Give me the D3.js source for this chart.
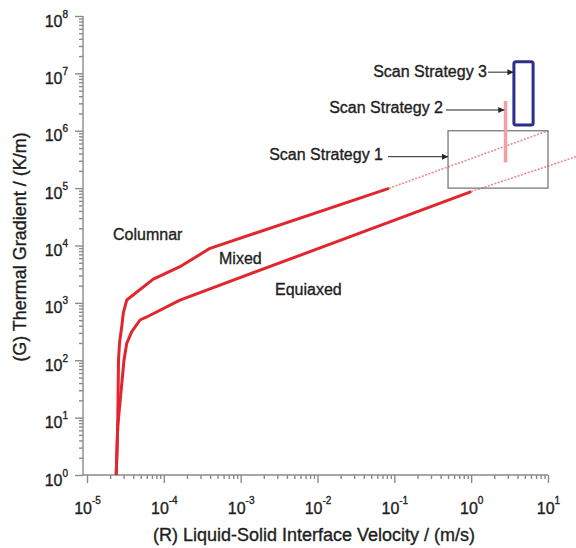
<!DOCTYPE html>
<html>
<head>
<meta charset="utf-8">
<script src="https://cdn.jsdelivr.net/npm/d3@7"></script>
<style>
  body { margin: 0; background: #fff; }
  svg { display: block; font-family: "Liberation Sans", Arial, Helvetica, sans-serif; }
  svg text { stroke: #1e1e1e; stroke-width: 0.35px; }
</style>
</head>
<body>
<div id="chart"></div>
<script>
// boundary curves (R in m/s, G in K/m)
const upperR = [2.40e-5, 2.51e-5, 2.57e-5, 2.65e-5, 2.83e-5, 2.97e-5, 3.29e-5, 7.3e-5, 1.62e-4, 3.99e-4, 8.5e-2];
const upperG = [1, 7, 100, 200, 380, 667, 1120, 2600, 4270, 8930, 9.9e4];
const upperExtR = [8.5e-2, 10];
const upperExtG = [9.9e4, 1e6];

const lowerR = [2.40e-5, 2.51e-5, 3.03e-5, 3.29e-5, 3.82e-5, 4.9e-5, 5.98e-5, 1.62e-4, 1.0];
const lowerG = [1, 7, 100, 197, 315, 503, 568, 1120, 8.7e4];
const lowerExtR = [1.0, 23.2];
const lowerExtG = [8.7e4, 3.53e5];

// scan strategy windows
const scan1R = [0.5, 10], scan1G = [1e5, 1e6];
const scan2R = 2.8, scan2G = [2.8e5, 3.3e6];
const scan3R = [3.6, 6.4], scan3G = [1.26e6, 1.6e7];

const xMajors = [1e-5, 1e-4, 1e-3, 1e-2, 1e-1, 1e0, 1e1];
const yMajors = [1e0, 1e1, 1e2, 1e3, 1e4, 1e5, 1e6, 1e7, 1e8];

const regionLabels = [
  { text: "Columnar", x: 113, y: 240 },
  { text: "Mixed", x: 219, y: 264 },
  { text: "Equiaxed", x: 275, y: 295 }
];

const W = 576, H = 548;
const red = "#e2262d";

const svg = d3.select("#chart").append("svg")
  .attr("width", W).attr("height", H);

const x = d3.scaleLog().domain([1e-5, 10]).range([87, 548]);
const y = d3.scaleLog().domain([1, 1e8]).range([475, 16]);
const axisX0 = x.range()[0] - 4;

function minors(majors) {
  const out = [];
  majors.slice(0, -1).forEach(m => { for (let k = 2; k <= 9; k++) out.push(m * k); });
  return out;
}

// arrowhead
svg.append("defs").append("marker")
  .attr("id", "arrow")
  .attr("viewBox", "0 0 10 10")
  .attr("refX", 10).attr("refY", 5)
  .attr("markerWidth", 8).attr("markerHeight", 6)
  .attr("markerUnits", "userSpaceOnUse")
  .attr("orient", "auto")
  .append("path").attr("d", "M0,0L10,5L0,10Z").attr("fill", "#222");

// x axis
const gx = svg.append("g").attr("transform", "translate(0," + y.range()[0] + ")");
gx.append("g")
  .call(d3.axisBottom(x).tickValues(minors(xMajors)).tickSize(4).tickSizeOuter(0).tickFormat(""));
const gxMaj = gx.append("g")
  .call(d3.axisBottom(x).tickValues(xMajors).tickSize(8).tickSizeOuter(0));
gxMaj.selectAll(".tick text").text(null)
  .attr("y", 39).attr("dy", 0)
  .each(function(d) {
    const t = d3.select(this);
    t.append("tspan").text("10");
    t.append("tspan").attr("dy", -10).attr("font-size", 10).text(Math.round(Math.log10(d)));
  });
gx.selectAll(".domain").remove();
gx.append("line").attr("x1", axisX0).attr("x2", x.range()[1]);

// y axis
const gy = svg.append("g").attr("transform", "translate(" + axisX0 + ",0)");
gy.append("g")
  .call(d3.axisLeft(y).tickValues(minors(yMajors)).tickSize(4).tickSizeOuter(0).tickFormat(""));
const gyMaj = gy.append("g")
  .call(d3.axisLeft(y).tickValues(yMajors).tickSize(8).tickSizeOuter(0));
gyMaj.selectAll(".tick text").text(null)
  .attr("x", -15).attr("y", 10).attr("dy", 0)
  .each(function(d) {
    const t = d3.select(this);
    t.append("tspan").text("10");
    t.append("tspan").attr("dy", -9).attr("font-size", 10).text(Math.round(Math.log10(d)));
  });
gy.selectAll(".domain").remove();
gy.append("line").attr("y1", y.range()[1]).attr("y2", y.range()[0]);

svg.selectAll(".tick line, g > line").attr("stroke", "#8a8a8a").attr("stroke-width", 1.4);
svg.selectAll(".tick text").attr("font-size", 16).attr("fill", "#1e1e1e").attr("font-family", null);

// axis titles
svg.append("text")
  .attr("x", 314).attr("y", 541)
  .attr("text-anchor", "middle")
  .attr("font-size", 18).attr("fill", "#1e1e1e")
  .text("(R) Liquid-Solid Interface Velocity / (m/s)");
svg.append("text")
  .attr("transform", "translate(26,247) rotate(-90)")
  .attr("text-anchor", "middle")
  .attr("font-size", 18).attr("fill", "#1e1e1e")
  .text("(G) Thermal Gradient / (K/m)");

const line = d3.line().x(d => x(d[0])).y(d => y(d[1]));
const zip = (a, b) => a.map((v, i) => [v, b[i]]);

// dashed extrapolations
[zip(upperExtR, upperExtG), zip(lowerExtR, lowerExtG)].forEach(pts => {
  svg.append("path").attr("d", line(pts))
    .attr("fill", "none").attr("stroke", "#ec8a8e")
    .attr("stroke-width", 1.6).attr("stroke-dasharray", "2,1.5");
});

// scan strategy 1 box
svg.append("rect")
  .attr("x", x(scan1R[0])).attr("y", y(scan1G[1]))
  .attr("width", x(scan1R[1]) - x(scan1R[0]))
  .attr("height", y(scan1G[0]) - y(scan1G[1]))
  .attr("fill", "none").attr("stroke", "#7a7a7a").attr("stroke-width", 1.3);

// scan strategy 2 line
svg.append("line")
  .attr("x1", x(scan2R)).attr("x2", x(scan2R))
  .attr("y1", y(scan2G[0])).attr("y2", y(scan2G[1]))
  .attr("stroke", "#f2a0a6").attr("stroke-width", 3.5);

// scan strategy 3 box
svg.append("rect")
  .attr("x", x(scan3R[0])).attr("y", y(scan3G[1]))
  .attr("width", x(scan3R[1]) - x(scan3R[0]))
  .attr("height", y(scan3G[0]) - y(scan3G[1]))
  .attr("rx", 2)
  .attr("fill", "none").attr("stroke", "#2d2d8c").attr("stroke-width", 3);

// boundary curves
[zip(upperR, upperG), zip(lowerR, lowerG)].forEach(pts => {
  svg.append("path").attr("d", line(pts))
    .attr("fill", "none").attr("stroke", red)
    .attr("stroke-width", 3).attr("stroke-linejoin", "round");
});

// region labels
svg.selectAll(".region").data(regionLabels).enter().append("text")
  .attr("class", "region")
  .attr("x", d => d.x).attr("y", d => d.y)
  .attr("font-size", 16).attr("fill", "#1e1e1e")
  .text(d => d.text);

// annotations with arrows
const notes = [
  { text: "Scan Strategy 1", tx: 383, ty: 160, x0: 388, tip: [scan1R[0], 3.53e5] },
  { text: "Scan Strategy 2", tx: 443, ty: 113, x0: 446, tip: [2.7, 2.3e6] },
  { text: "Scan Strategy 3", tx: 487, ty: 77, x0: 488, tip: [3.55, 1.05e7] }
];
notes.forEach(n => {
  svg.append("text")
    .attr("x", n.tx).attr("y", n.ty)
    .attr("text-anchor", "end")
    .attr("font-size", 16).attr("fill", "#1e1e1e")
    .text(n.text);
  svg.append("line")
    .attr("x1", n.x0).attr("x2", x(n.tip[0]))
    .attr("y1", y(n.tip[1])).attr("y2", y(n.tip[1]))
    .attr("stroke", "#222").attr("stroke-width", 1)
    .attr("marker-end", "url(#arrow)");
});
</script>
</body>
</html>
